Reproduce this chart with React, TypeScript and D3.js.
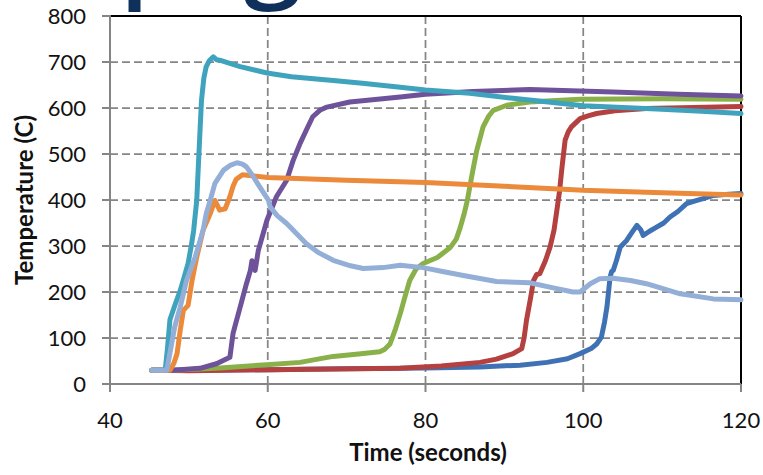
import React from 'react';
import * as d3 from 'd3';

// Axis ticks
const xTicks = [40, 60, 80, 100, 120];
const yTicks = [0, 100, 200, 300, 400, 500, 600, 700, 800];

// Temperature traces: [time (s), temperature (C)]
const blueTrace: [number, number][] = [
  [45.3, 30], [60, 31], [70, 33], [80, 35], [86.9, 37], [92, 41], [95.4, 47], [98, 55], [99.6, 66],
  [101, 77], [101.7, 87], [102.3, 102], [102.7, 135], [103.0, 167], [103.4, 232], [103.6, 245],
  [103.8, 247], [104.2, 268], [104.7, 298], [105.5, 312], [106.2, 330], [106.8, 345], [107.3, 335],
  [107.6, 323], [108.4, 332], [109.3, 341], [110.2, 350], [111.0, 363], [112.0, 375], [113.1, 392],
  [114.2, 398], [115.2, 403], [116.5, 410], [118, 412], [120, 414],
];

const redTrace: [number, number][] = [
  [45.3, 30], [50, 29], [54.8, 30], [65, 32], [76.8, 34], [82, 39], [86.9, 47], [89, 54], [91.1, 66],
  [92.2, 77], [92.5, 100], [92.8, 138], [93.3, 185], [93.7, 225], [94.1, 238], [94.5, 240],
  [95.2, 268], [95.8, 298], [96.3, 335], [96.6, 371], [97.0, 420], [97.3, 470], [97.7, 530],
  [98.1, 548], [98.5, 559], [99.6, 577], [100.6, 583], [101.7, 588], [104, 594], [108, 599],
  [114, 601], [120, 603],
];

const greenTrace: [number, number][] = [
  [45.3, 30], [48, 30], [54, 35], [59.9, 42], [64.1, 47], [66, 53], [68.3, 60], [71.5, 65],
  [74.2, 70], [74.8, 75], [75.5, 87], [76.2, 120], [76.8, 153], [77.4, 190], [78.0, 225],
  [78.8, 250], [79.7, 262], [81.5, 275], [83.1, 296], [83.9, 315], [84.4, 340], [84.9, 370],
  [85.3, 399], [85.9, 455], [86.5, 508], [87.3, 559], [88.0, 582], [88.6, 595], [90.3, 606],
  [93.2, 613], [96, 616], [99.6, 619], [110, 620], [120, 619],
];

const purpleTrace: [number, number][] = [
  [45.3, 30], [48.0, 30], [51.4, 34], [53.5, 44], [55.2, 58], [55.6, 110], [56.5, 167],
  [57.3, 218], [57.8, 247], [58.0, 268], [58.4, 247], [58.8, 290], [59.9, 356], [61.1, 407],
  [62.4, 443], [63.2, 485], [64.1, 523], [65.0, 556], [65.7, 581], [66.6, 595], [67.5, 602],
  [70.4, 613], [76.8, 624], [80, 630], [86, 636], [93.2, 640], [103.8, 635], [112, 630], [120, 626],
];

const tealTrace: [number, number][] = [
  [45.3, 30], [47.0, 30], [47.3, 80], [47.6, 140], [47.8, 150], [48.3, 175], [48.9, 203],
  [49.4, 232], [49.9, 262], [50.3, 300], [50.6, 333], [51.0, 400], [51.3, 510], [51.6, 617],
  [51.9, 665], [52.2, 690], [52.6, 703], [53.1, 711], [53.5, 705], [53.9, 704], [56.5, 690],
  [59.9, 676], [63, 668], [68.3, 660], [72, 654], [76.8, 645], [80, 639], [85.6, 632],
  [91.1, 621], [100, 605], [109.3, 598], [115, 593], [120, 588],
];

const orangeTrace: [number, number][] = [
  [45.3, 30], [47.6, 30], [48.1, 45], [48.5, 66], [48.9, 116], [49.3, 160], [49.9, 171],
  [50.4, 225], [51.0, 276], [51.8, 334], [52.7, 370], [53.3, 399], [53.9, 378], [54.6, 381],
  [55.2, 407], [55.6, 430], [56.0, 445], [56.8, 455], [60, 449], [70, 443], [80, 438],
  [90, 430], [100, 421], [110, 416], [120, 411],
];

const lightBlueTrace: [number, number][] = [
  [45.3, 30], [47.2, 30], [48.2, 124], [48.9, 167], [49.7, 225], [50.8, 276], [51.8, 334],
  [52.2, 370], [52.7, 399], [53.3, 436], [54.4, 465], [55.3, 476], [56.1, 481], [56.8, 478],
  [57.3, 472], [58.2, 450], [59.0, 428], [60.1, 399], [60.3, 385], [61.2, 366], [62.4, 349],
  [64.9, 305], [66.5, 285], [68.3, 269], [70.5, 257], [72.1, 251], [74.6, 253], [76.8, 258],
  [79.7, 253], [82, 245], [84.8, 236], [89.0, 223], [93.2, 220], [96.2, 209], [98.7, 200],
  [99.6, 200], [100.9, 218], [102.1, 229], [103.8, 230], [106, 225], [108.0, 218], [110, 208],
  [112.3, 196], [116.5, 185], [120, 183],
];

const series = [
  { name: 'TC1', data: blueTrace, color: '#3F72B4' },
  { name: 'TC2', data: redTrace, color: '#B4413F' },
  { name: 'TC3', data: greenTrace, color: '#8AB04A' },
  { name: 'TC4', data: purpleTrace, color: '#6E529A' },
  { name: 'TC5', data: tealTrace, color: '#3FA3BE' },
  { name: 'TC6', data: orangeTrace, color: '#EA8A3A' },
  { name: 'TC7', data: lightBlueTrace, color: '#93AFD8' },
];

const W = 763;
const H = 475;
const plot = { left: 110, right: 741, top: 16, bottom: 384 };

export default function App() {
  const x = d3.scaleLinear().domain([40, 120]).range([plot.left, plot.right]);
  const y = d3.scaleLinear().domain([0, 800]).range([plot.bottom, plot.top]);
  const line = d3
    .line<[number, number]>()
    .x((d) => x(d[0]))
    .y((d) => y(d[1]))
    .curve(d3.curveLinear);

  const gridColor = '#858585';
  const font = 'Lato, "Open Sans", sans-serif';

  return (
    <svg
      width={W}
      height={H}
      viewBox={`0 0 ${W} ${H}`}
      style={{ position: 'absolute', left: 0, top: 0, background: '#fff' }}
    >
      <rect width={W} height={H} fill="#fff" />
      {/* heading text, mostly above the frame */}
      <text
        x={120}
        y={-13}
        fontSize={104}
        fontFamily='"Open Sans", sans-serif'
        fontWeight={600}
        letterSpacing={15}
        fill="#10305C"
      >
        pig
      </text>

      {/* horizontal grid */}
      {yTicks
        .filter((t) => t > 0 && t < 800)
        .map((t) => (
          <line
            key={`gy${t}`}
            x1={plot.left}
            x2={plot.right}
            y1={y(t)}
            y2={y(t)}
            stroke={gridColor}
            strokeWidth={1.75}
            strokeDasharray="8,4"
          />
        ))}
      {/* vertical grid */}
      {xTicks
        .filter((t) => t > 40 && t < 120)
        .map((t) => (
          <line
            key={`gx${t}`}
            x1={x(t)}
            x2={x(t)}
            y1={plot.top}
            y2={plot.bottom}
            stroke={gridColor}
            strokeWidth={1.75}
            strokeDasharray="8,4"
          />
        ))}

      {/* frame: top and right black */}
      <line x1={plot.left} x2={plot.right} y1={plot.top} y2={plot.top} stroke="#000" strokeWidth={2} />
      <line x1={plot.right} x2={plot.right} y1={plot.top} y2={plot.bottom} stroke="#000" strokeWidth={2} />

      {/* traces */}
      {series.map((s) => (
        <path
          key={s.name}
          d={line(s.data) ?? ''}
          fill="none"
          stroke={s.color}
          strokeWidth={5}
          strokeLinejoin="round"
          strokeLinecap="round"
        />
      ))}

      {/* y axis */}
      <line x1={plot.left} x2={plot.left} y1={plot.top - 1} y2={plot.bottom} stroke={gridColor} strokeWidth={2} />
      {yTicks.map((t) => (
        <g key={`ty${t}`}>
          <line x1={plot.left - 8} x2={plot.left} y1={y(t)} y2={y(t)} stroke={gridColor} strokeWidth={2} />
          <text
            x={86}
            y={y(t)}
            dy="0.35em"
            textAnchor="end"
            fontSize={22}
            fontFamily={font}
            fill="#111"
          >
            {t}
          </text>
        </g>
      ))}

      {/* x axis */}
      <line x1={plot.left} x2={plot.right} y1={plot.bottom} y2={plot.bottom} stroke={gridColor} strokeWidth={2} />
      {xTicks.map((t) => (
        <g key={`tx${t}`}>
          <line x1={x(t)} x2={x(t)} y1={plot.bottom} y2={plot.bottom + 8} stroke={gridColor} strokeWidth={2} />
          <text
            x={x(t)}
            y={428}
            textAnchor="middle"
            fontSize={22}
            fontFamily={font}
            fill="#111"
          >
            {t}
          </text>
        </g>
      ))}

      {/* axis titles */}
      <text
        x={428}
        y={461}
        textAnchor="middle"
        fontSize={24}
        fontWeight={700}
        fontFamily={font}
        fill="#111"
      >
        Time (seconds)
      </text>
      <text
        transform={`translate(33, 200) rotate(-90)`}
        textAnchor="middle"
        fontSize={24}
        fontWeight={700}
        fontFamily={font}
        fill="#111"
      >
        Temperature (C)
      </text>
    </svg>
  );
}
